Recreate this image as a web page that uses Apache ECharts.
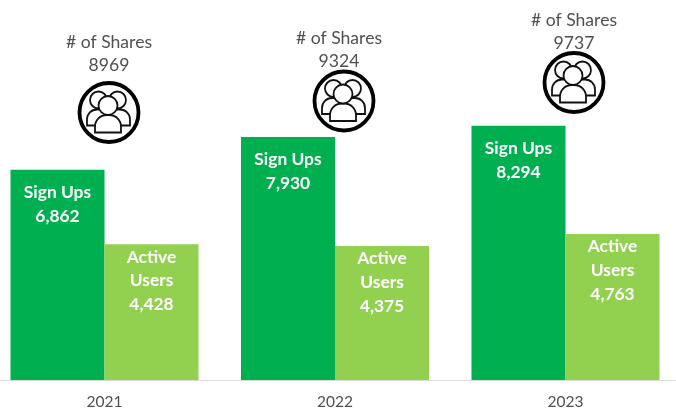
<!DOCTYPE html>
<html><head><meta charset="utf-8">
<style>html,body{margin:0;padding:0;background:#fff}#c{width:676px;height:411px}</style>
<script src="https://cdn.jsdelivr.net/npm/echarts@6/dist/echarts.min.js"></script>
</head><body><div id="c"></div>
<script>
const years = ['2021','2022','2023'];
const signUps = [6862,7930,8294];
const activeUsers = [4428,4375,4763];
const shares = [8969,9324,9737];
const fmt = v => v.toLocaleString('en-US');
const chart = echarts.init(document.getElementById('c'),null,{renderer:'canvas'});
const FONT = 'Lato, "Open Sans", sans-serif';
const annot = [{tx:109,ty:54,cx:109,cy:112.5},{tx:339,ty:50,cx:344,cy:101},{tx:574,ty:31.5,cx:574,cy:82.5}];
function person(hx,hy,hr,bx,by,bw,bh){
  const st = {fill:'#fff',stroke:'#111',lineWidth:1.8};
  return [
    {type:'rect',shape:{x:bx,y:by,width:bw,height:bh,r:[bw*0.45,bw*0.45,0,0]},style:st},
    {type:'circle',shape:{cx:hx,cy:hy,r:hr},style:st}
  ];
}
const graphic = [];
annot.forEach((a,i)=>{
  graphic.push({type:'text',x:a.tx,y:a.ty,style:{text:'# of Shares\n'+shares[i],font:'17.6px '+FONT,fill:'#505050',align:'center',verticalAlign:'middle',lineHeight:23}});
  graphic.push({type:'group',x:a.cx,y:a.cy,children:[
    {type:'circle',shape:{cx:0,cy:0,r:29.5},style:{fill:'#fff',stroke:'#000',lineWidth:3.8}},
    ...person(-10.5,-12.5,8.5,-22,-3,22,16),
    ...person(8.5,-12.5,8.5,-1,-3,22,16),
    ...person(-1,-7,9.5,-14,2.5,26,17.5)
  ]});
});
chart.setOption({
  animation:false,
  backgroundColor:'#fff',
  grid:{left:-10.75,width:691.5,top:0,height:380,containLabel:false,outerBoundsMode:'none'},
  xAxis:{type:'category',data:years,axisTick:{show:false},axisLine:{lineStyle:{color:'#d9d9d9',width:1}},
    axisLabel:{color:'#505050',fontFamily:'Lato',fontSize:15.5,margin:14}},
  yAxis:{type:'value',min:0,max:12400,show:false,splitLine:{show:false}},
  series:[
    {type:'bar',name:'Sign Ups',data:signUps,barWidth:94,barGap:0,itemStyle:{color:'#00AF4F'},
     label:{show:true,position:'insideTop',distance:11,color:'#fff',fontFamily:'Lato',fontWeight:'bold',fontSize:17.4,lineHeight:23.6,
       formatter:p=>'Sign Ups\n'+fmt(p.value)}},
    {type:'bar',name:'Active Users',data:activeUsers,barWidth:94,barGap:0,itemStyle:{color:'#92d050'},
     label:{show:true,position:'insideTop',distance:1,color:'#fff',fontFamily:'Lato',fontWeight:'bold',fontSize:17.4,lineHeight:23.6,
       formatter:p=>'Active\nUsers\n'+fmt(p.value)}}
  ],
  graphic
});
</script></body></html>
